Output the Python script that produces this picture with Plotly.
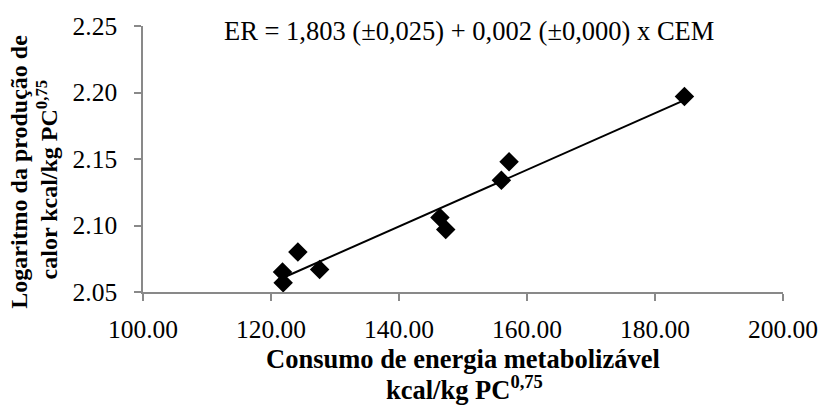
import numpy as np
import plotly.graph_objects as go

# Data
cem = [121.8, 121.9, 124.2, 127.6, 146.4, 147.3, 156.0, 157.2, 184.6]
log_heat = [2.065, 2.057, 2.080, 2.067, 2.106, 2.097, 2.134, 2.148, 2.197]

x_ticks = [100, 120, 140, 160, 180, 200]
y_ticks = [2.05, 2.10, 2.15, 2.20, 2.25]

equation = "ER = 1,803 (±0,025) + 0,002 (±0,000) x CEM"
x_title_1 = "Consumo de energia metabolizável"
x_title_2 = "kcal/kg PC<sup>0,75</sup>"
y_title_1 = "Logaritmo da produção de"
y_title_2 = "calor kcal/kg PC<sup>0,75</sup>"

# Linear trendline (least squares) drawn between min and max x
slope, intercept = np.polyfit(cem, log_heat, 1)
trend_x = [min(cem), max(cem)]
trend_y = [intercept + slope * v for v in trend_x]

FONT = "Liberation Serif, Times New Roman, serif"
AXC = "#898989"

fig = go.Figure()
fig.add_trace(go.Scatter(x=trend_x, y=trend_y, mode="lines",
                         line=dict(color="black", width=2),
                         hoverinfo="skip", showlegend=False))
fig.add_trace(go.Scatter(x=cem, y=log_heat, mode="markers",
                         marker=dict(symbol="diamond", size=15, color="black",
                                     line=dict(width=0)),
                         cliponaxis=False, showlegend=False))

W, H = 830, 405
L, R, T, B = 143, 40, 24, 113
fig.update_layout(
    width=W, height=H,
    margin=dict(l=L, r=R, t=T, b=B, pad=0),
    paper_bgcolor="white", plot_bgcolor="white",
    font=dict(family=FONT, color="black", size=25.5),
    xaxis=dict(range=[100, 200], tickvals=x_ticks,
               ticktext=[f"{v:.2f}" for v in x_ticks],
               showline=True, linecolor=AXC, linewidth=1.5,
               ticks="outside", ticklen=7, tickcolor=AXC, tickwidth=1.5,
               showgrid=False, zeroline=False, ticklabelstandoff=7,
               tickfont=dict(size=25.5, family=FONT, color="black")),
    yaxis=dict(range=[2.05, 2.25], tickvals=y_ticks,
               ticktext=[f"{v:.2f}" for v in y_ticks],
               showline=True, linecolor=AXC, linewidth=1.5,
               ticks="outside", ticklen=7, tickcolor=AXC, tickwidth=1.5,
               showgrid=False, zeroline=False, ticklabelstandoff=12,
               tickfont=dict(size=25.5, family=FONT, color="black")),
)

def px_x(px):
    return (px - L) / (W - L - R)

def px_y(py):
    return 1 - (py - T) / (H - T - B)

ann = [
    dict(text=equation, x=px_x(473), y=px_y(29), size=26.5),
    dict(text="<b>" + x_title_1 + "</b>", x=px_x(466), y=px_y(360), size=26.5),
    dict(text="<b>" + x_title_2 + "</b>", x=px_x(468), y=px_y(389), size=26.5),
    dict(text="<b>" + y_title_1 + "</b>", x=px_x(18), y=px_y(170.5), size=24, angle=-90),
    dict(text="<b>" + y_title_2 + "</b>", x=px_x(46), y=px_y(178.5), size=24, angle=-90),
]
for a in ann:
    fig.add_annotation(xref="paper", yref="paper", showarrow=False,
                       xanchor="center", yanchor="middle",
                       font=dict(family=FONT, color="black", size=a["size"]),
                       text=a["text"], x=a["x"], y=a["y"],
                       textangle=a.get("angle", 0))

fig.write_html("out.html",
               config={"displayModeBar": False},
               post_script="document.body.style.margin='0px';document.body.style.overflow='hidden';")
